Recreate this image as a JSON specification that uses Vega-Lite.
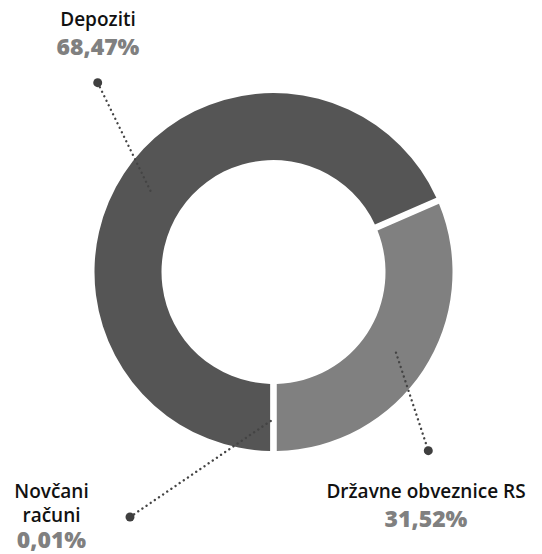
{
  "$schema": "https://vega.github.io/schema/vega-lite/v6.json",
  "width": 537,
  "height": 544,
  "autosize": "none",
  "padding": {"left": 5, "top": 0, "right": 0, "bottom": 10},
  "background": "white",
  "config": {"view": {"stroke": null}},
  "datasets": {
    "segments": [
      {"name": "Državne obveznice RS", "value": 31.52, "rank": 1},
      {"name": "Novčani računi", "value": 0.01, "rank": 2},
      {"name": "Depoziti", "value": 68.47, "rank": 3}
    ],
    "leaders": [
      {"k": "Depoziti", "px": -122.5, "py": -80, "end": false},
      {"k": "Depoziti", "px": -175.8, "py": -189.3, "end": true},
      {"k": "Državne", "px": 122.5, "py": 80.7, "end": false},
      {"k": "Državne", "px": 154.8, "py": 178.7, "end": true},
      {"k": "Novčani", "px": 0.5, "py": 146.7, "end": false},
      {"k": "Novčani", "px": -143.5, "py": 245, "end": true}
    ],
    "labels": [
      {"name": ["Depoziti"], "pct": "68,47%", "lx": -175.5, "ny": -246, "pcy": -217},
      {"name": ["Državne obveznice RS"], "pct": "31,52%", "lx": 152.5, "ny": 226.3, "pcy": 254.7},
      {"name": ["Novčani", "računi"], "pct": "0,01%", "lx": -222, "ny": 226.3, "pcy": 276}
    ]
  },
  "layer": [
    {
      "data": {"name": "segments"},
      "mark": {"type": "arc", "innerRadius": 112, "outerRadius": 179, "padAngle": 0.031},
      "encoding": {
        "theta": {"field": "value", "type": "quantitative", "stack": true, "scale": {"range": [1.16116, 7.44435]}},
        "order": {"field": "rank", "type": "quantitative"},
        "color": {
          "field": "name", "type": "nominal", "legend": null,
          "scale": {"domain": ["Depoziti", "Državne obveznice RS", "Novčani računi"], "range": ["#555555", "#808080", "#808080"]}
        }
      }
    },
    {
      "data": {"name": "leaders"},
      "mark": {"type": "line", "color": "#444444", "strokeWidth": 2.4, "strokeDash": [0.01, 5], "strokeCap": "round"},
      "encoding": {
        "x": {"field": "px", "type": "quantitative", "axis": null, "scale": {"domain": [-268.5, 268.5], "nice": false, "zero": false}},
        "y": {"field": "py", "type": "quantitative", "axis": null, "scale": {"domain": [-272, 272], "nice": false, "zero": false, "reverse": true}},
        "detail": {"field": "k", "type": "nominal"}
      }
    },
    {
      "data": {"name": "leaders"},
      "transform": [{"filter": "datum.end"}],
      "mark": {"type": "point", "filled": true, "color": "#3f3f3f", "size": 80, "opacity": 1},
      "encoding": {
        "x": {"field": "px", "type": "quantitative"},
        "y": {"field": "py", "type": "quantitative"}
      }
    },
    {
      "data": {"name": "labels"},
      "mark": {"type": "text", "font": "Open Sans", "fontSize": 19, "fontWeight": 600, "color": "#111111", "align": "center", "baseline": "alphabetic", "lineHeight": 23.4},
      "encoding": {
        "x": {"field": "lx", "type": "quantitative"},
        "y": {"field": "ny", "type": "quantitative"},
        "text": {"field": "name"}
      }
    },
    {
      "data": {"name": "labels"},
      "mark": {"type": "text", "font": "Open Sans", "fontSize": 23, "fontWeight": 800, "color": "#808080", "align": "center", "baseline": "alphabetic"},
      "encoding": {
        "x": {"field": "lx", "type": "quantitative"},
        "y": {"field": "pcy", "type": "quantitative"},
        "text": {"field": "pct"}
      }
    }
  ]
}
